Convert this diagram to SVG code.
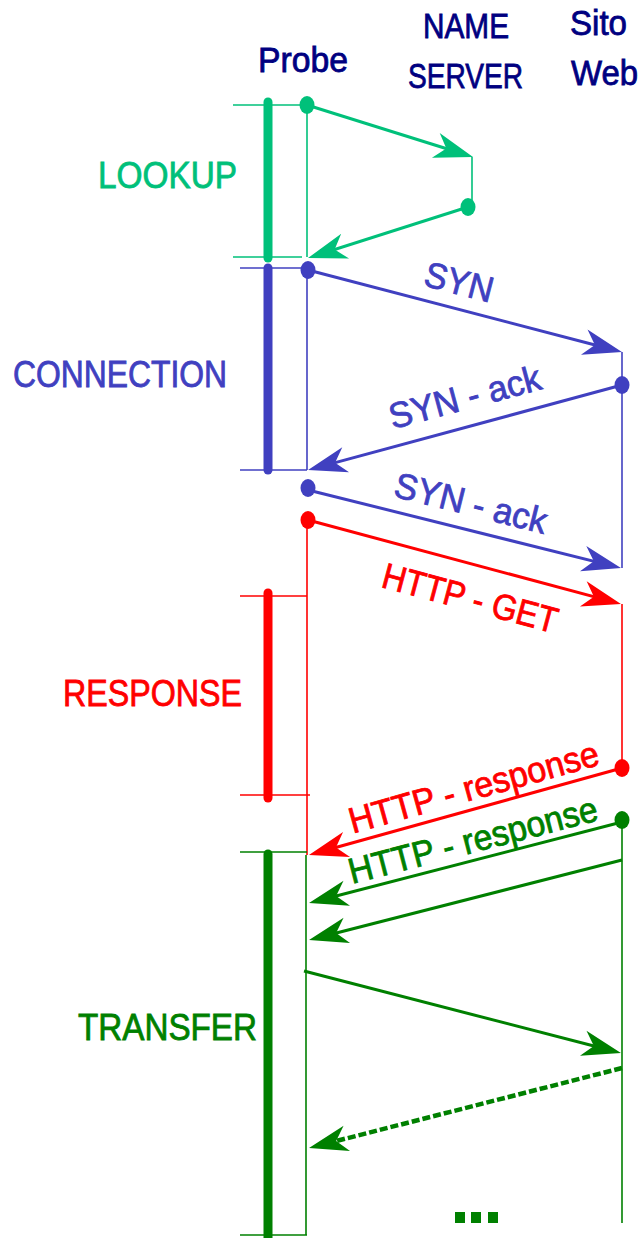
<svg xmlns="http://www.w3.org/2000/svg" width="640" height="1238" viewBox="0 0 640 1238">
<style>
text{font-family:"Liberation Sans",Arial,sans-serif;font-size:36px;stroke-width:0.8;}
.hdr{fill:#000080;stroke:#000080;font-size:35px;}
.tT{fill:#00C07A;stroke:#00C07A;}
.tB{fill:#4040C0;stroke:#4040C0;}
.tR{fill:#FF0000;stroke:#FF0000;}
.tG{fill:#008000;stroke:#008000;}
.teal{stroke:#00C07A;fill:none;}
.blue{stroke:#4040C0;fill:none;}
.red{stroke:#FF0000;fill:none;}
.green{stroke:#008000;fill:none;}
.bar{stroke-width:9;stroke-linecap:round;}
.thin{stroke-width:1.6;}
.arr{stroke-width:3;}
</style>
<defs>
<marker id="ahT" markerUnits="userSpaceOnUse" viewBox="-32 -15 44 30" markerWidth="44" markerHeight="30" refX="0" refY="0" orient="auto"><path d="M10,0 L-29,-13 L-18,0 L-29,13 Z" fill="#00C07A"/></marker>
<marker id="ahB" markerUnits="userSpaceOnUse" viewBox="-32 -15 44 30" markerWidth="44" markerHeight="30" refX="0" refY="0" orient="auto"><path d="M10,0 L-29,-13 L-18,0 L-29,13 Z" fill="#4040C0"/></marker>
<marker id="ahR" markerUnits="userSpaceOnUse" viewBox="-32 -15 44 30" markerWidth="44" markerHeight="30" refX="0" refY="0" orient="auto"><path d="M10,0 L-29,-13 L-18,0 L-29,13 Z" fill="#FF0000"/></marker>
<marker id="ahG" markerUnits="userSpaceOnUse" viewBox="-32 -15 44 30" markerWidth="44" markerHeight="30" refX="0" refY="0" orient="auto"><path d="M10,0 L-29,-13 L-18,0 L-29,13 Z" fill="#008000"/></marker>
</defs>

<g id="header">
<text class="hdr" x="258" y="72" textLength="90" lengthAdjust="spacingAndGlyphs">Probe</text>
<text class="hdr" x="423" y="38" textLength="86" lengthAdjust="spacingAndGlyphs">NAME</text>
<text class="hdr" x="408" y="88" textLength="115" lengthAdjust="spacingAndGlyphs">SERVER</text>
<text class="hdr" x="570" y="35" textLength="57" lengthAdjust="spacingAndGlyphs">Sito</text>
<text class="hdr" x="571" y="85" textLength="67" lengthAdjust="spacingAndGlyphs">Web</text>
</g>

<g id="lookup">
<text class="tT" x="98" y="188" textLength="139" lengthAdjust="spacingAndGlyphs">LOOKUP</text>
<line class="teal bar" x1="268" y1="102" x2="268" y2="258"/>
<line class="teal thin" x1="233" y1="105" x2="307" y2="105"/>
<line class="teal thin" x1="233" y1="257" x2="302" y2="257"/>
<line class="teal thin" x1="307" y1="105" x2="307" y2="257"/>
<line class="teal thin" x1="472" y1="157" x2="472" y2="207"/>
</g>

<g id="connection">
<text class="tB" x="13" y="387" textLength="214" lengthAdjust="spacingAndGlyphs">CONNECTION</text>
<line class="blue bar" x1="268" y1="268" x2="268" y2="470"/>
<line class="blue thin" x1="240" y1="268" x2="307" y2="268"/>
<line class="blue thin" x1="240" y1="470" x2="307" y2="470"/>
<line class="blue thin" x1="307" y1="268" x2="307" y2="470"/>
<line class="blue thin" x1="622" y1="352" x2="622" y2="568"/>
</g>

<g id="response">
<text class="tR" x="63" y="706" textLength="179" lengthAdjust="spacingAndGlyphs">RESPONSE</text>
<line class="red bar" x1="268" y1="593" x2="268" y2="798"/>
<line class="red thin" x1="240" y1="596" x2="307" y2="596"/>
<line class="red thin" x1="240" y1="795" x2="310" y2="795"/>
<line class="red thin" x1="307" y1="520" x2="307" y2="855"/>
<line class="red thin" x1="622" y1="604" x2="622" y2="768"/>
</g>

<g id="transfer">
<text class="tG" x="78" y="1040" textLength="179" lengthAdjust="spacingAndGlyphs">TRANSFER</text>
<line class="green bar" x1="268" y1="854" x2="268" y2="1242"/>
<line class="green thin" x1="240" y1="852" x2="307" y2="852"/>
<line class="green thin" x1="240" y1="1235" x2="307" y2="1235"/>
<line class="green thin" x1="306" y1="855" x2="306" y2="1235"/>
<line class="green thin" x1="622" y1="820" x2="622" y2="1223"/>
<rect x="455" y="1212" width="10" height="11" fill="#008000"/>
<rect x="471" y="1212" width="10" height="11" fill="#008000"/>
<rect x="488" y="1212" width="10" height="11" fill="#008000"/>
</g>

<g id="connectors">
<line class="teal arr" x1="307" y1="105" x2="463.5" y2="154" marker-end="url(#ahT)"/>
<line class="teal arr" x1="468" y1="207" x2="317.5" y2="255" marker-end="url(#ahT)"/>
<line class="blue arr" x1="308" y1="270" x2="612.3" y2="349.5" marker-end="url(#ahB)"/>
<line class="blue arr" x1="622" y1="385" x2="317.7" y2="467.4" marker-end="url(#ahB)"/>
<line class="blue arr" x1="308" y1="490" x2="611.3" y2="565.6" marker-end="url(#ahB)"/>
<line class="red arr" x1="308" y1="520" x2="611.3" y2="601.4" marker-end="url(#ahR)"/>
<line class="red arr" x1="622" y1="768" x2="318.6" y2="852.3" marker-end="url(#ahR)"/>
<line class="green arr" x1="622" y1="822" x2="318.7" y2="900.5" marker-end="url(#ahG)"/>
<line class="green arr" x1="622" y1="860" x2="318.7" y2="937.5" marker-end="url(#ahG)"/>
<line class="green arr" x1="304" y1="971" x2="611.3" y2="1050.5" marker-end="url(#ahG)"/>
<line class="green" stroke-width="4.5" stroke-dasharray="8 3" x1="622" y1="1068" x2="318.7" y2="1145.5" marker-end="url(#ahG)"/>
<ellipse cx="307" cy="105" rx="7.5" ry="9" fill="#00C07A"/>
<ellipse cx="468" cy="207" rx="7.5" ry="9" fill="#00C07A"/>
<ellipse cx="308" cy="270" rx="7.5" ry="9" fill="#4040C0"/>
<ellipse cx="622" cy="385" rx="7.5" ry="9" fill="#4040C0"/>
<ellipse cx="308" cy="488" rx="7.5" ry="9" fill="#4040C0"/>
<ellipse cx="308" cy="520" rx="7.5" ry="9" fill="#FF0000"/>
<ellipse cx="622" cy="768" rx="7.5" ry="9" fill="#FF0000"/>
<ellipse cx="622" cy="820" rx="7.5" ry="9" fill="#008000"/>
<text class="tB" x="456" y="294" text-anchor="middle" transform="rotate(14.6 456 294)" textLength="70" lengthAdjust="spacingAndGlyphs">SYN</text>
<text class="tB" x="468" y="409" text-anchor="middle" transform="rotate(-15.1 468 409)" textLength="156" lengthAdjust="spacingAndGlyphs">SYN - ack</text>
<text class="tB" x="468" y="515" text-anchor="middle" transform="rotate(14 468 515)" textLength="156" lengthAdjust="spacingAndGlyphs">SYN - ack</text>
<text class="tR" x="467" y="610" text-anchor="middle" transform="rotate(15 467 610)" textLength="180" lengthAdjust="spacingAndGlyphs">HTTP - GET</text>
<text class="tR" x="477" y="799" text-anchor="middle" transform="rotate(-15.5 477 799)" textLength="258" lengthAdjust="spacingAndGlyphs">HTTP - response</text>
<text class="tG" x="476" y="852" text-anchor="middle" transform="rotate(-14.5 476 852)" textLength="256" lengthAdjust="spacingAndGlyphs">HTTP - response</text>
</g>
</svg>
